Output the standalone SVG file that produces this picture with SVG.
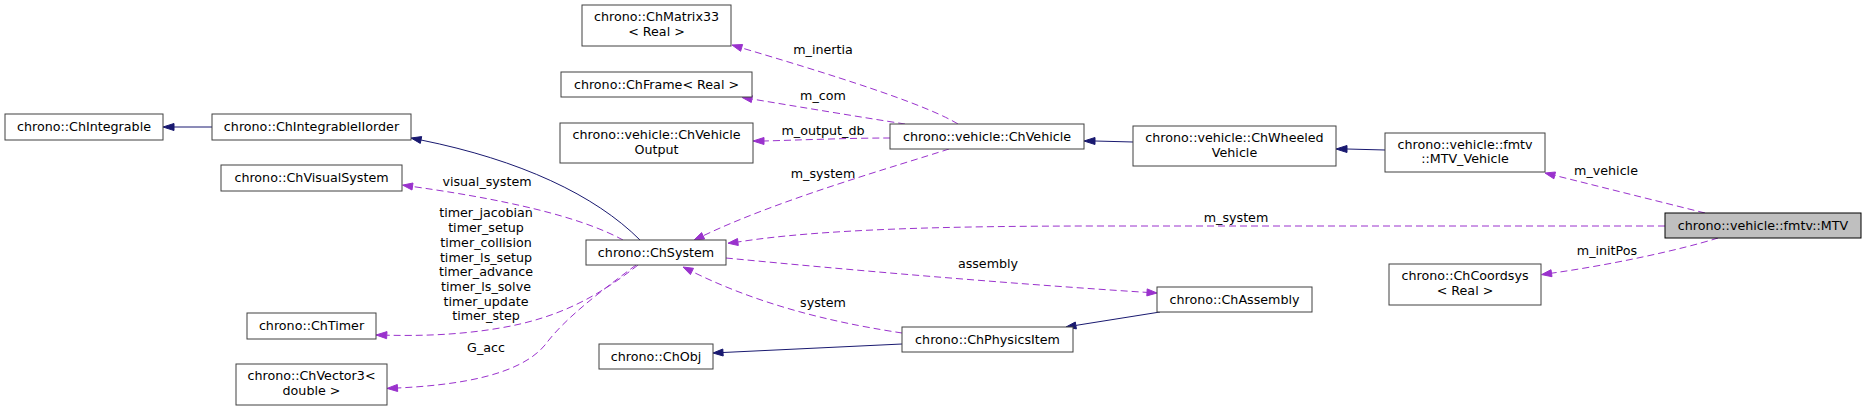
<svg xmlns="http://www.w3.org/2000/svg" width="1867" height="411" viewBox="0 0 1867 411">
<style>
  .n rect { fill: #ffffff; stroke: #404040; stroke-width: 1; }
  .root rect { fill: #bfbfbf; stroke: #000000; stroke-width: 1; }
  text { font-family: "DejaVu Sans", "Noto Sans", sans-serif; font-size: 12.7px; fill: #000000; text-anchor: middle; }
  .inh { fill: none; stroke: #191970; stroke-width: 1; }
  .inhA { fill: #191970; stroke: #191970; stroke-width: 1; }
  .use { fill: none; stroke: #9a32cd; stroke-width: 1; stroke-dasharray: 7,4; }
  .useA { fill: #9a32cd; stroke: #9a32cd; stroke-width: 1; }
</style>
<rect x="0" y="0" width="1867" height="411" fill="#ffffff"/>

<g id="connectors">
  <!-- inheritance -->
  <path class="inh" d="M212,127 L174,127"/>
  <polygon class="inhA" points="174,123.5 163,127 174,130.5"/>
  <path class="inh" d="M640,240 C595,195 520,160 421,140"/>
  <polygon class="inhA" points="421.7,136.6 411,138 420.3,143.4"/>
  <path class="inh" d="M1133,142 L1095,141"/>
  <polygon class="inhA" points="1095,137.5 1084,141 1095,144.5"/>
  <path class="inh" d="M1385,150 L1347,149"/>
  <polygon class="inhA" points="1347,145.5 1336,149 1347,152.5"/>
  <path class="inh" d="M1160,312 L1075.9,325.4"/>
  <polygon class="inhA" points="1075.3,322 1066,327 1076.4,328.9"/>
  <path class="inh" d="M902,344 L723,352.5"/>
  <polygon class="inhA" points="722.8,349 713,353 723.2,356"/>

  <!-- usage -->
  <path class="use" d="M958,124 C930,107 860,83 741.6,47.9"/>
  <polygon class="useA" points="742.6,44.5 732,45 740.6,51.3"/>
  <text x="823" y="54">m_inertia</text>

  <path class="use" d="M905,124 C860,117 800,107 751.9,99"/>
  <polygon class="useA" points="752.4,95.6 742,97.4 751.3,102.5"/>
  <text x="823" y="100">m_com</text>

  <path class="use" d="M890,138 C850,138 800,140 764,141"/>
  <polygon class="useA" points="764,137.5 753,141 764,144.5"/>
  <text x="823" y="135">m_output_db</text>

  <path class="use" d="M949,149 C900,165 780,199 703.1,235.8"/>
  <polygon class="useA" points="701.6,232.6 694,240 704.6,239"/>
  <text x="823" y="178">m_system</text>

  <path class="use" d="M1665,226 L1100,226 C950,226 820,229 737.9,242"/>
  <polygon class="useA" points="737.5,238.5 728,243.2 738.3,245.5"/>
  <text x="1236" y="222">m_system</text>

  <path class="use" d="M1705,213 L1554.7,175.4"/>
  <polygon class="useA" points="1555.5,172 1545,173 1553.9,178.8"/>
  <text x="1606" y="174.5">m_vehicle</text>

  <path class="use" d="M1718,238 C1680,250 1610,265 1551.5,273.2"/>
  <polygon class="useA" points="1551,269.7 1541.6,274.6 1552,276.7"/>
  <text x="1607" y="254.5">m_initPos</text>

  <path class="use" d="M623,240 C590,222 530,203 412.5,186.5"/>
  <polygon class="useA" points="413,183 402.6,185.1 412,190"/>
  <text x="487" y="185.7">visual_system</text>

  <path class="use" d="M638,265 C600,295 560,318 500,328 C460,335 420,336 386.8,335.2"/>
  <polygon class="useA" points="387,331.6 376,335 386.6,338.7"/>
  <text x="486" y="217.3">timer_jacobian</text>
  <text x="486" y="232.1">timer_setup</text>
  <text x="486" y="246.8">timer_collision</text>
  <text x="486" y="261.5">timer_ls_setup</text>
  <text x="486" y="276.2">timer_advance</text>
  <text x="486" y="290.9">timer_ls_solve</text>
  <text x="486" y="305.6">timer_update</text>
  <text x="486" y="320.4">timer_step</text>

  <path class="use" d="M636,265 C600,292 565,318 545,345 C520,375 460,385 397.5,388"/>
  <polygon class="useA" points="397.3,384.5 387,388.4 397.7,391.5"/>
  <text x="486" y="352">G_acc</text>

  <path class="use" d="M726,258 C850,270 1000,283 1147,292.4"/>
  <polygon class="useA" points="1147.2,288.9 1157,293 1146.8,295.9"/>
  <text x="988" y="268.3">assembly</text>

  <path class="use" d="M902,333 C850,325 770,310 692,271.5"/>
  <polygon class="useA" points="693.5,268.3 683,267 690.4,274.6"/>
  <text x="823" y="306.7">system</text>
</g>

<g id="node_ChIntegrable" class="n">
  <rect x="5" y="114" width="158" height="26"/>
  <text x="84" y="131">chrono::ChIntegrable</text>
</g>
<g id="node_ChIntegrableIIorder" class="n">
  <rect x="212" y="114" width="199" height="26"/>
  <text x="311.5" y="131">chrono::ChIntegrableIIorder</text>
</g>
<g id="node_ChVisualSystem" class="n">
  <rect x="221" y="165" width="181" height="26"/>
  <text x="311.5" y="182">chrono::ChVisualSystem</text>
</g>
<g id="node_ChTimer" class="n">
  <rect x="247" y="313" width="129" height="26"/>
  <text x="311.5" y="330">chrono::ChTimer</text>
</g>
<g id="node_ChVector3" class="n">
  <rect x="236" y="364" width="151" height="41"/>
  <text x="311.5" y="380">chrono::ChVector3&lt;</text>
  <text x="311.5" y="394.5">double &gt;</text>
</g>
<g id="node_ChMatrix33" class="n">
  <rect x="582" y="5" width="149" height="41"/>
  <text x="656.5" y="21">chrono::ChMatrix33</text>
  <text x="656.5" y="35.5">&lt; Real &gt;</text>
</g>
<g id="node_ChFrame" class="n">
  <rect x="561" y="72" width="191" height="25"/>
  <text x="656.5" y="89">chrono::ChFrame&lt; Real &gt;</text>
</g>
<g id="node_ChVehicleOutput" class="n">
  <rect x="560" y="123" width="193" height="40"/>
  <text x="656.5" y="139">chrono::vehicle::ChVehicle</text>
  <text x="656.5" y="153.5">Output</text>
</g>
<g id="node_ChSystem" class="n">
  <rect x="586" y="240" width="140" height="25"/>
  <text x="656" y="257">chrono::ChSystem</text>
</g>
<g id="node_ChObj" class="n">
  <rect x="599" y="344" width="114" height="25"/>
  <text x="656" y="361">chrono::ChObj</text>
</g>
<g id="node_ChPhysicsItem" class="n">
  <rect x="902" y="327" width="171" height="25"/>
  <text x="987.5" y="344">chrono::ChPhysicsItem</text>
</g>
<g id="node_ChVehicle" class="n">
  <rect x="890" y="124" width="194" height="25"/>
  <text x="987" y="141">chrono::vehicle::ChVehicle</text>
</g>
<g id="node_ChAssembly" class="n">
  <rect x="1157" y="287" width="155" height="25"/>
  <text x="1234.5" y="304">chrono::ChAssembly</text>
</g>
<g id="node_ChWheeledVehicle" class="n">
  <rect x="1133" y="126" width="203" height="40"/>
  <text x="1234.5" y="142">chrono::vehicle::ChWheeled</text>
  <text x="1234.5" y="156.5">Vehicle</text>
</g>
<g id="node_MTV_Vehicle" class="n">
  <rect x="1385" y="133" width="160" height="39"/>
  <text x="1465" y="148.5">chrono::vehicle::fmtv</text>
  <text x="1465" y="163">::MTV_Vehicle</text>
</g>
<g id="node_ChCoordsys" class="n">
  <rect x="1389" y="264" width="152" height="41"/>
  <text x="1465" y="280">chrono::ChCoordsys</text>
  <text x="1465" y="294.5">&lt; Real &gt;</text>
</g>
<g id="node_MTV" class="root">
  <rect x="1665" y="213" width="196" height="25"/>
  <text x="1763" y="230">chrono::vehicle::fmtv::MTV</text>
</g>
</svg>
